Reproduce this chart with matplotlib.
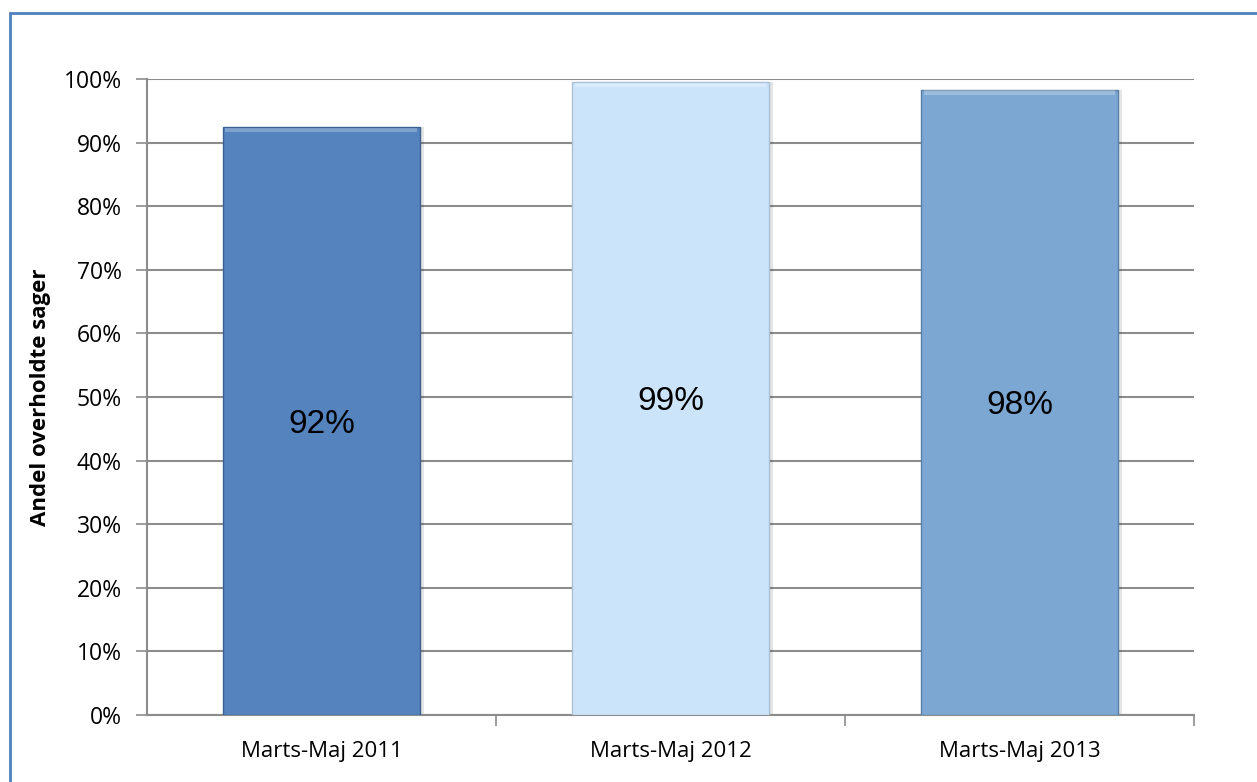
import numpy as np
import matplotlib.pyplot as plt
from matplotlib.patches import Rectangle

categories = ["Marts-Maj 2011", "Marts-Maj 2012", "Marts-Maj 2013"]
values = [92.4, 99.5, 98.3]
value_labels = ["92%", "99%", "98%"]
bar_colors = ["#5583be", "#cce4fa", "#7ba7d2"]
edge_colors = ["#3d628f", "#a9bfd3", "#5a7fa6"]
yticks = list(range(0, 101, 10))

fig = plt.figure(figsize=(12.57, 7.82), dpi=100)
ax = fig.add_axes([0.1169, 0.0857, 0.8330, 0.8133])

x = np.arange(len(categories))
# soft shadow behind bars
ax.bar(x + 0.012, values, width=0.565, color="#000000", alpha=0.10, zorder=2)
bars = ax.bar(x, values, width=0.565, color=bar_colors, edgecolor=edge_colors,
              linewidth=1.0, zorder=3)

# bevel highlight along top of bars
for xi, v in zip(x, values):
    ax.bar(xi, 0.7, bottom=v - 0.8, width=0.55, color="white", alpha=0.25,
           linewidth=0, zorder=4)

for xi, v, lab in zip(x, values, value_labels):
    ax.text(xi, v / 2 - 0.5, lab, ha="center", va="center", fontsize=24,
            family="Liberation Sans", color="black", zorder=5)

ax.set_xlim(-0.5, 2.5)
ax.set_ylim(0, 100)
ax.set_yticks(yticks)
ax.set_yticklabels([f"{t}%" for t in yticks], family="Open Sans", fontsize=16.5)
ax.yaxis.grid(True, color="#8c8c8c", linewidth=1.5, zorder=0)
ax.set_axisbelow(True)

ax.set_xticks(x)
ax.set_xticklabels(categories, family="Open Sans", fontsize=16)
ax.set_xticks([0.5, 1.5, 2.5], minor=True)
ax.tick_params(axis="x", which="major", length=0, pad=19)
ax.tick_params(axis="x", which="minor", length=8, color="#8c8c8c", width=1.2)
ax.tick_params(axis="y", length=8, color="#8c8c8c", width=1.2, pad=10)

for side in ["top", "right"]:
    ax.spines[side].set_visible(False)
for side in ["left", "bottom"]:
    ax.spines[side].set_color("#8c8c8c")
    ax.spines[side].set_linewidth(1.5)

ax.set_ylabel("Andel overholdte sager", fontsize=16, fontweight="bold",
              family="Open Sans", labelpad=9)

# outer chart frame (left and top edges visible)
frame = Rectangle((10 / 1257, -0.1), 1.2, 1.1 - 13 / 782,
                  transform=fig.transFigure, fill=False,
                  edgecolor="#4f81bd", linewidth=2.0, clip_on=False)
fig.patches.append(frame)

fig.savefig("out.png", dpi=100)
